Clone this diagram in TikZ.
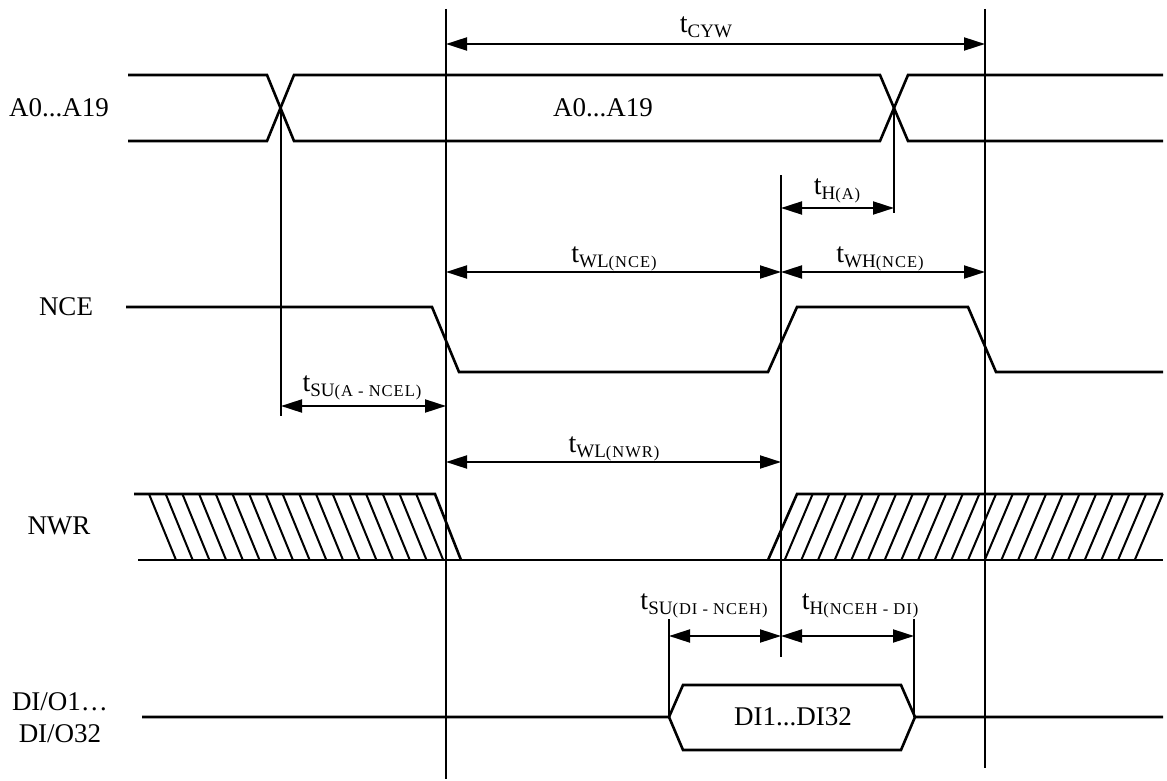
\documentclass[tikz,border=0pt]{standalone}
\usepackage{fontspec}
\setmainfont{Liberation Serif}
\usetikzlibrary{arrows.meta}
\newcommand\tlbl[2]{{\fontsize{28}{28}\selectfont t}\raisebox{-5pt}{\fontsize{19}{19}\selectfont #1\fontsize{16.5}{16.5}\selectfont\addfontfeatures{LetterSpace=6}#2}}
\tikzset{
  sig/.style={line width=2.6pt, line join=miter},
  vline/.style={line width=1.8pt},
  hatch/.style={line width=2pt},
  dim/.style={line width=2pt, {Triangle[length=21pt,width=13pt]}-{Triangle[length=21pt,width=13pt]}},
  lbl/.style={font=\fontsize{27}{32}\selectfont, inner sep=0pt, align=center},
  tl/.style={anchor=base, inner sep=0pt}
}
\begin{document}
\begin{tikzpicture}[x=1pt,y=-1pt]
\useasboundingbox (0,0) rectangle (1167,781);

% ---- signal names
\node[lbl] (nA) at (59,108) {A0...A19};
\node[lbl] (nNCE) at (66,307) {NCE};
\node[lbl] (nNWR) at (59,526) {NWR};
\node[lbl] (nDI) at (60,718) {DI/O1\dots\\DI/O32};

% ---- address bus
\draw[sig] (128,75) -- (267,75) -- (294,141) -- (880,141) -- (908,75) -- (1163,75);
\draw[sig] (128,141) -- (267,141) -- (294,75) -- (880,75) -- (908,141) -- (1163,141);
\node[lbl] (bA) at (603,108) {A0...A19};
\coordinate (xA1) at (281,108);
\coordinate (xA2) at (894,108);

% ---- NCE
\draw[sig] (126,307) -- (432,307) -- (459,372) -- (768,372) -- (797,307) -- (968,307) -- (996,372) -- (1163,372);

% ---- NWR
\draw[sig] (134,494) -- (435,494) -- (461,560);
\draw[sig] (138,560) -- (1163,560);
\foreach \k in {0,...,16}
  \draw[hatch] ({149+16.7*\k},494) -- ({176+16.7*\k},560);
\draw[sig] (768,560) -- (797,494) -- (1163,494);
\foreach \k in {1,...,22}
  \draw[hatch] ({768+16.67*\k},560) -- ({796+16.67*\k},494);

% ---- DI/O
\draw[sig] (142,717) -- (669,717) -- (683,685) -- (901,685) -- (915,717) -- (1163,717);
\draw[sig] (669,717) -- (683,750) -- (901,750) -- (915,717);
\node[lbl] (bDI) at (793,717) {DI1...DI32};

% ---- vertical reference lines
\coordinate (v1t) at (446,9);   \coordinate (v1b) at (446,779);
\coordinate (v2t) at (985,9);   \coordinate (v2b) at (985,768);
\coordinate (v3b) at (281,416);
\coordinate (v4b) at (894,213);
\coordinate (v5t) at (781,175); \coordinate (v5b) at (781,657);
\coordinate (v6t) at (669,619); \coordinate (v6b) at (669,717);
\coordinate (v7t) at (914,619); \coordinate (v7b) at (914,717);
\draw[vline] (v1t) -- (v1b);
\draw[vline] (v2t) -- (v2b);
\draw[vline] (xA1) -- (v3b);
\draw[vline] (xA2) -- (v4b);
\draw[vline] (v5t) -- (v5b);
\draw[vline] (v6t) -- (v6b);
\draw[vline] (v7t) -- (v7b);

% ---- dimension arrows
\coordinate (cyw1) at (446,44);  \coordinate (cyw2) at (985,44);
\coordinate (ha1) at (781,208);  \coordinate (ha2) at (894,208);
\coordinate (wl1) at (446,272);  \coordinate (wl2) at (781,272);
\coordinate (wh2) at (985,272);
\coordinate (su1) at (281,406);  \coordinate (su2) at (446,406);
\coordinate (wr1) at (446,462);  \coordinate (wr2) at (781,462);
\coordinate (sd1) at (669,636);  \coordinate (sd2) at (781,636);
\coordinate (hd2) at (914,636);
\draw[dim] (cyw1) -- (cyw2);
\draw[dim] (ha1) -- (ha2);
\draw[dim] (wl1) -- (wl2);
\draw[dim] (wl2) -- (wh2);
\draw[dim] (su1) -- (su2);
\draw[dim] (wr1) -- (wr2);
\draw[dim] (sd1) -- (sd2);
\draw[dim] (sd2) -- (hd2);

% ---- timing labels
\node[tl] (lcyw) at (706,33) {\tlbl{CYW}{}};
\node[tl] (lha) at (837,194) {\tlbl{H}{(A)}};
\node[tl] (lwl) at (614,262) {\tlbl{WL}{(NCE)}};
\node[tl] (lwh) at (880,262) {\tlbl{WH}{(NCE)}};
\node[tl] (lsu) at (362,391) {\tlbl{SU}{(A - NCEL)}};
\node[tl] (lwr) at (614,452) {\tlbl{WL}{(NWR)}};
\node[tl] (lsd) at (704,609) {\tlbl{SU}{(DI - NCEH)}};
\node[tl] (lhd) at (860,609) {\tlbl{H}{(NCEH - DI)}};
\end{tikzpicture}
\end{document}
